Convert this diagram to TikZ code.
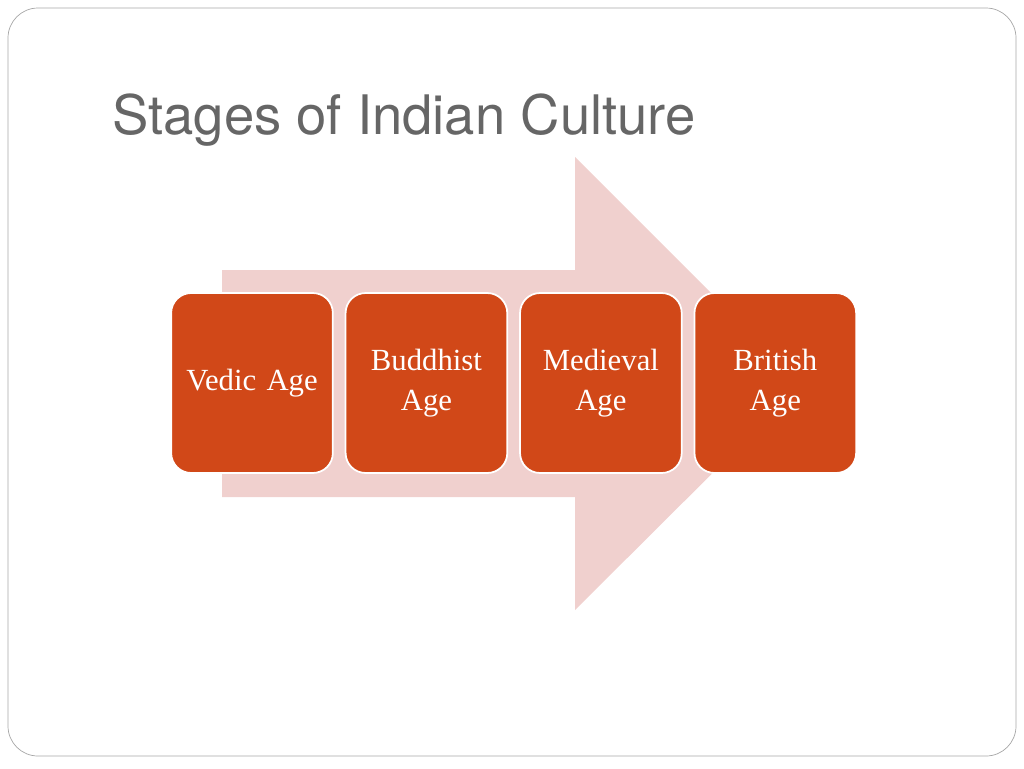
\documentclass[tikz,border=0pt]{standalone}
\usepackage{fontspec}
\setmainfont{Liberation Serif}
\newfontfamily\titlefont{TeX Gyre Heros}
\usetikzlibrary{positioning}
\definecolor{stagefill}{HTML}{D14818}
\definecolor{arrowfill}{HTML}{F0D0CE}
\definecolor{titlegray}{HTML}{666666}
\begin{document}
\begin{tikzpicture}[x=0.02cm,y=-0.02cm,
    stage/.style={draw=white, line width=1pt, fill=stagefill, rounded corners=0.4cm,
      minimum width=3.2cm, minimum height=3.6cm, text width=3cm, align=center,
      text=white, font=\fontsize{17.5}{23}\selectfont},
    node distance=0.22cm]
  \useasboundingbox (0,0) rectangle (1024,768);
  \draw[gray!70, rounded corners=0.6cm] (8,8) rectangle (1016,756);
  \node[anchor=west, text=titlegray, font=\titlefont\fontsize{31}{36}\selectfont] (title) at (106,120) {Stages of Indian Culture};
  % big arrow in the back
  \fill[arrowfill] (222,270) -- (575,270) -- (575,157) -- (802,384) -- (575,610) -- (575,497) -- (222,497) -- cycle;
  \node[stage] (vedic) at (252,383) {Vedic Age};
  \node[stage, right=of vedic] (buddhist) {Buddhist\\Age};
  \node[stage, right=of buddhist] (medieval) {Medieval\\Age};
  \node[stage, right=of medieval] (british) {British\\Age};
\end{tikzpicture}
\end{document}
